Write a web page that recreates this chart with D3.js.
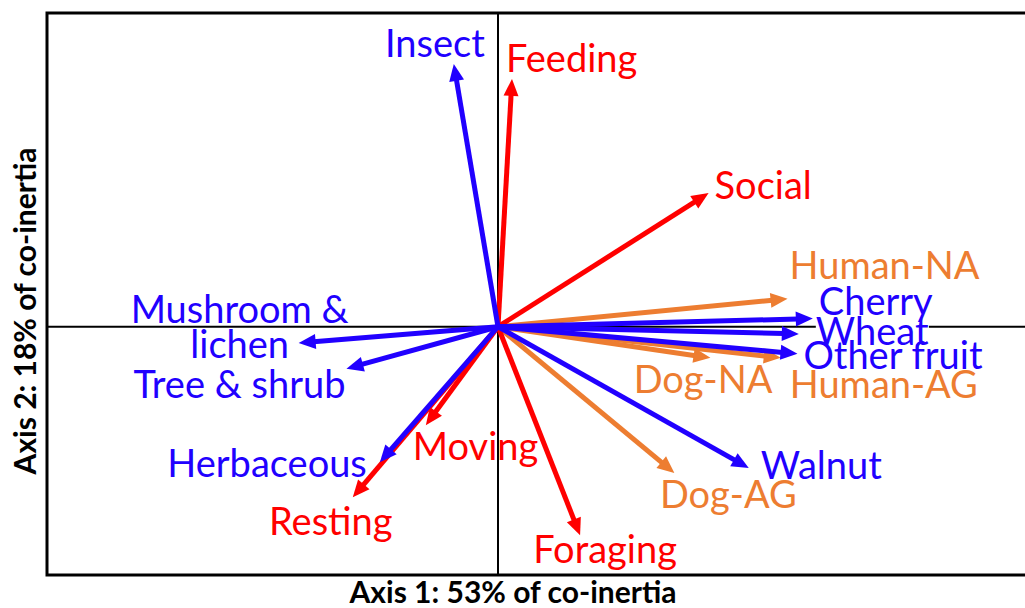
<!DOCTYPE html>
<html>
<head>
<meta charset="utf-8">
<script src="https://cdn.jsdelivr.net/npm/d3@7"></script>
<style>
  body { margin: 0; background: #fff; }
  svg { display: block; }
</style>
</head>
<body>
<script>
// co-inertia biplot, arrows drawn from the origin

var w = 1025;
var h = 608;

// variable names, group, and arrow tip coordinates (axis 1, axis 2)
var names = ["Insect", "Feeding", "Social", "Human-NA", "Cherry", "Wheat", "Other fruit",
             "Human-AG", "Dog-NA", "Walnut", "Dog-AG", "Foraging", "Mushroom &\nlichen",
             "Tree & shrub", "Herbaceous", "Resting", "Moving"];
var groups = ["diet", "behaviour", "behaviour", "human", "diet", "diet", "diet",
              "human", "human", "diet", "human", "behaviour", "diet",
              "diet", "diet", "behaviour", "behaviour"];
var axis1 = [-0.098, 0.031, 0.467, 0.642, 0.698, 0.667, 0.664,
             0.627, 0.471, 0.556, 0.391, 0.182, -0.442,
             -0.336, -0.262, -0.322, -0.160];
var axis2 = [0.582, 0.549, 0.296, 0.062, 0.018, -0.016, -0.060,
             -0.069, -0.069, -0.313, -0.324, -0.462, -0.036,
             -0.093, -0.300, -0.378, -0.218];

var axisTitle1 = "Axis 1: 53% of co-inertia";
var axisTitle2 = "Axis 2: 18% of co-inertia";

var colors = { diet: "#2100ff", behaviour: "#ff0000", human: "#ed7d31" };

// label placement relative to arrow tip: [dx, dy, anchor]
var labelOffsets = {
  "Insect": [31, -7, "end"],
  "Feeding": [-6, -7, "start"],
  "Social": [6, 6, "start"],
  "Human-NA": [2, -20, "start"],
  "Cherry": [6, -4, "start"],
  "Wheat": [17, 11, "start"],
  "Other fruit": [6, 15, "start"],
  "Human-AG": [9, 40, "start"],
  "Dog-NA": [62, 35, "end"],
  "Walnut": [12, 11, "start"],
  "Dog-AG": [54, 35, "middle"],
  "Foraging": [25, 28, "middle"],
  "Mushroom &\nlichen": [-59, -20, "middle"],
  "Tree & shrub": [-1, 29, "end"],
  "Herbaceous": [-13, 15, "end"],
  "Resting": [-22, 38, "middle"],
  "Moving": [-13, 35, "start"]
};

var data = names.map(function(n, i) {
  return { name: n, group: groups[i], x: axis1[i], y: axis2[i] };
});

var plotLeft = 47, plotTop = 13, plotBottom = 575;

var x = d3.scaleLinear().domain([-1, 1.2]).range([plotLeft, plotLeft + 2.2 * 451]);
var y = d3.scaleLinear().domain([-0.55, 0.695]).range([plotBottom, plotTop]);

var svg = d3.select("body")
            .append("svg")
            .attr("width", w)
            .attr("height", h);

// frame (right side runs off the picture)
svg.append("rect")
   .attr("x", plotLeft)
   .attr("y", plotTop)
   .attr("width", x(1.2) - plotLeft + 10)
   .attr("height", plotBottom - plotTop)
   .attr("fill", "none")
   .attr("stroke", "#000")
   .attr("stroke-width", 3);

// axis lines through the origin
svg.append("line")
   .attr("x1", plotLeft).attr("x2", w)
   .attr("y1", y(0)).attr("y2", y(0))
   .attr("stroke", "#000").attr("stroke-width", 2);
svg.append("line")
   .attr("x1", x(0)).attr("x2", x(0))
   .attr("y1", plotTop).attr("y2", plotBottom)
   .attr("stroke", "#000").attr("stroke-width", 2);

// arrows: orange first, then red, then blue on top
var order = { human: 0, behaviour: 1, diet: 2 };
var sorted = data.slice().sort(function(a, b) { return order[a.group] - order[b.group]; });

var headLen = 17, headHalf = 7.5;

var arrows = svg.selectAll("g.arrow")
   .data(sorted)
   .enter()
   .append("g")
   .attr("class", "arrow");

arrows.append("line")
   .attr("x1", x(0))
   .attr("y1", y(0))
   .attr("x2", function(d) {
     var dx = x(d.x) - x(0), dy = y(d.y) - y(0), L = Math.sqrt(dx * dx + dy * dy);
     return x(d.x) - dx / L * (headLen - 2);
   })
   .attr("y2", function(d) {
     var dx = x(d.x) - x(0), dy = y(d.y) - y(0), L = Math.sqrt(dx * dx + dy * dy);
     return y(d.y) - dy / L * (headLen - 2);
   })
   .attr("stroke", function(d) { return colors[d.group]; })
   .attr("stroke-width", 5);

arrows.append("path")
   .attr("d", function(d) {
     var tx = x(d.x), ty = y(d.y);
     var dx = tx - x(0), dy = ty - y(0), L = Math.sqrt(dx * dx + dy * dy);
     var ux = dx / L, uy = dy / L;
     var bx = tx - ux * headLen, by = ty - uy * headLen;
     return "M" + tx + "," + ty +
            "L" + (bx - uy * headHalf) + "," + (by + ux * headHalf) +
            "L" + (bx + uy * headHalf) + "," + (by - ux * headHalf) + "Z";
   })
   .attr("fill", function(d) { return colors[d.group]; });

// labels
var font = "Lato, 'Open Sans', sans-serif";

var labels = svg.selectAll("text.lab")
   .data(data)
   .enter()
   .append("text")
   .attr("class", "lab")
   .attr("x", function(d) { return x(d.x) + labelOffsets[d.name][0]; })
   .attr("y", function(d) { return y(d.y) + labelOffsets[d.name][1]; })
   .attr("text-anchor", function(d) { return labelOffsets[d.name][2]; })
   .attr("font-family", font)
   .attr("font-size", "38px")
   .attr("fill", function(d) { return colors[d.group]; });

labels.each(function(d) {
  var t = d3.select(this);
  var parts = d.name.split("\n");
  parts.forEach(function(p, i) {
    t.append("tspan")
     .attr("x", t.attr("x"))
     .attr("dy", i === 0 ? 0 : 35)
     .text(p);
  });
});

// the Wheat label box hides the axis line behind it
labels.filter(function(d) { return d.name === "Wheat"; })
   .each(function() {
     var bb = this.getBBox();
     svg.insert("rect", "g.arrow")
        .attr("x", bb.x)
        .attr("y", y(0) - 4)
        .attr("width", bb.width)
        .attr("height", 8)
        .attr("fill", "#fff");
   });

// axis titles
svg.append("text")
   .attr("x", 513)
   .attr("y", 603)
   .attr("text-anchor", "middle")
   .attr("font-family", font)
   .attr("font-weight", "bold")
   .attr("font-size", "30px")
   .text(axisTitle1);

svg.append("text")
   .attr("transform", "translate(36," + 311 + ") rotate(-90)")
   .attr("text-anchor", "middle")
   .attr("font-family", font)
   .attr("font-weight", "bold")
   .attr("font-size", "30px")
   .text(axisTitle2);
</script>
</body>
</html>
